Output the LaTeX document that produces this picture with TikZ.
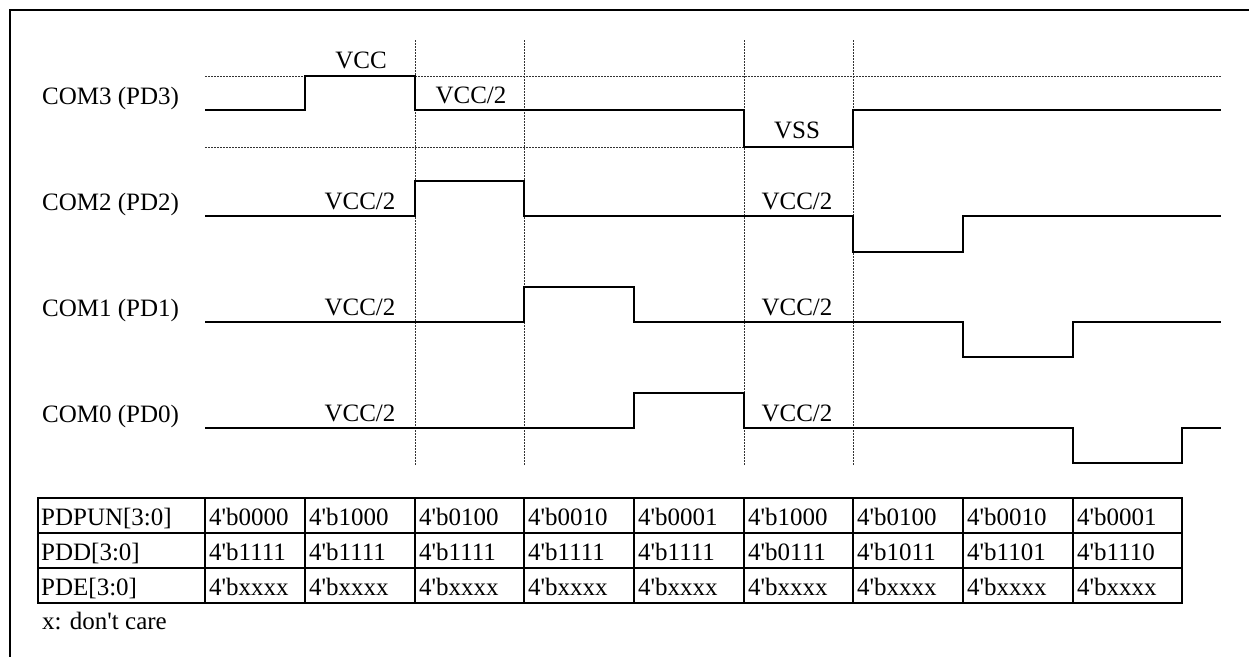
\documentclass[tikz,border=0pt]{standalone}
\usepackage{fontspec}
\setmainfont{Liberation Serif}[Ligatures=TeXOff]
\begin{document}
\begin{tikzpicture}[x=1pt,y=-1pt,
  wave/.style={line width=2.4pt, line join=miter},
  guide/.style={line width=1pt, dash pattern=on 1.5pt off 1.5pt, black!80},
  grid/.style={line width=2.3pt},
  txt/.style={inner sep=0pt, font=\fontsize{25}{29}\selectfont},
  lbl/.style={txt, anchor=base},
  sig/.style={txt, anchor=base west},
  cell/.style={txt, anchor=base west}]
\useasboundingbox (0,0) rectangle (1249,656);
% frame
\draw[line width=2.5pt] (10,660) -- (10,10) -- (1252,10);
% guides
\foreach \x in {415,524,744,853} \draw[guide] (\x,40) -- (\x,465);
\draw[guide] (205,76) -- (1221,76);
\draw[guide] (205,147) -- (744,147);
% signal names
\node[sig] (n3) at (42,104) {COM3 (PD3)};
\node[sig] (n2) at (42,210) {COM2 (PD2)};
\node[sig] (n1) at (42,316) {COM1 (PD1)};
\node[sig] (n0) at (42,422) {COM0 (PD0)};
% waveforms
\draw[wave] (205,110) -- (305,110) -- (305,76) -- (415,76) -- (415,110) -- (744,110) -- (744,147) -- (853,147) -- (853,110) -- (1221,110);
\draw[wave] (205,216) -- (415,216) -- (415,181) -- (524,181) -- (524,216) -- (853,216) -- (853,252) -- (963,252) -- (963,216) -- (1221,216);
\draw[wave] (205,322) -- (524,322) -- (524,287) -- (634,287) -- (634,322) -- (963,322) -- (963,357) -- (1073,357) -- (1073,322) -- (1221,322);
\draw[wave] (205,428) -- (634,428) -- (634,393) -- (744,393) -- (744,428) -- (1073,428) -- (1073,463) -- (1182,463) -- (1182,428) -- (1221,428);
% level labels
\node[lbl] (vcc) at (361,68) {VCC};
\node[lbl] (c3h) at (471,103) {VCC/2};
\node[lbl] (vss) at (797,138) {VSS};
\node[lbl] (c2a) at (360,209) {VCC/2};
\node[lbl] (c2b) at (797,209) {VCC/2};
\node[lbl] (c1a) at (360,315) {VCC/2};
\node[lbl] (c1b) at (797,315) {VCC/2};
\node[lbl] (c0a) at (360,421) {VCC/2};
\node[lbl] (c0b) at (797,421) {VCC/2};
% table
\draw[grid] (38,498) rectangle (1182,603);
\draw[grid] (38,533) -- (1182,533);
\draw[grid] (38,568) -- (1182,568);
\foreach \x in {205,305,415,524,634,744,853,963,1073} \draw[grid] (\x,498) -- (\x,603);
\node[cell] (hpun) at (41,525) {PDPUN[3:0]};
\node[cell] (hpdd) at (41,560) {PDD[3:0]};
\node[cell] (hpde) at (41,595) {PDE[3:0]};
\foreach \x/\a/\b [count=\i] in {205/0000/1111, 305/1000/1111, 415/0100/1111, 524/0010/1111, 634/0001/1111, 744/1000/0111, 853/0100/1011, 963/0010/1101, 1073/0001/1110} {
  \node[cell] (pun\i) at (\x+4,525) {4'b\a};
  \node[cell] (pdd\i) at (\x+4,560) {4'b\b};
  \node[cell] (pde\i) at (\x+4,595) {4'bxxxx};
}
\node[cell] (note) at (42,629) {x: don't care};
\end{tikzpicture}
\end{document}
